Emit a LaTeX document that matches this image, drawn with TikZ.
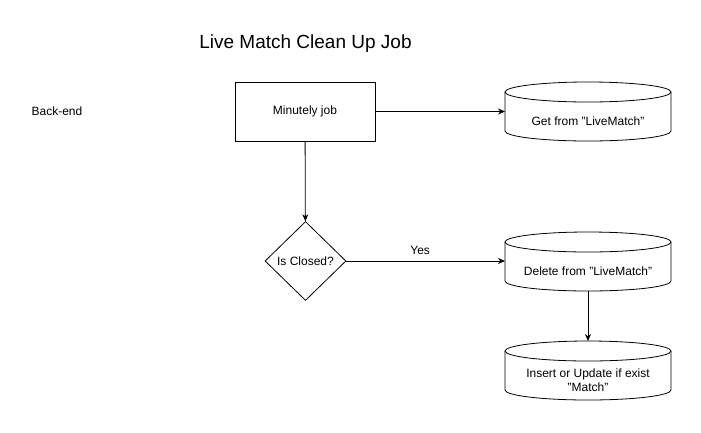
\documentclass[tikz,border=0pt]{standalone}
\usepackage{fontspec}
\setmainfont{Liberation Sans}
\usetikzlibrary{shapes.geometric, arrows.meta, calc}

% outline of a data store round a body node
\newcommand\drum[1]{%
  \draw ($(#1.north west)+(0,-10)$) -- ($(#1.south west)+(0,-10)$)
    arc[start angle=180, end angle=360, x radius=83pt, y radius=10pt]
    -- ($(#1.north east)+(0,-10)$);
  \draw ($(#1.north)+(0,-10)$) ellipse[x radius=83pt, y radius=10pt];
  \coordinate (#1 top) at ($(#1.north)+(0,-20)$);
}

\begin{document}
\begin{tikzpicture}[x=1pt, y=-1pt, line width=0.8pt, >={Stealth[length=7pt,width=6pt]},
  every node/.style={font=\fontsize{12}{14}\selectfont},
  jobbox/.style={draw, minimum width=140pt, minimum height=59pt},
  check/.style={draw, diamond, minimum width=81pt, minimum height=79pt, inner sep=0pt},
  store/.style={minimum width=166pt, minimum height=39pt, outer sep=0pt, align=center}]
  \useasboundingbox (0,0) rectangle (701,432);

  % Title and lane
  \node[font=\fontsize{19}{23}\selectfont] (title) at (305.5,44) {Live Match Clean Up Job};
  \node (lane) at (57,111) {Back-end};

  % Steps
  \node[jobbox] (job) at (305,111.5) {Minutely job};
  \node[store] (get) at (588,121.5) {Get from "LiveMatch"};
  \node[check] (closed) at (305.5,261) {Is Closed?};
  \node[store] (delete) at (588,271.5) {Delete from "LiveMatch"};
  \node[store] (upsert) at (588,380.5) {Insert or Update if exist\\"Match"};
  \drum{get}
  \drum{delete}
  \drum{upsert}

  % Connectors
  \draw[->] (job.east) -- (job.east -| get.west);
  \draw[->] (job) -- (closed);
  \draw[->] (closed.east) -- node[above=3pt, pos=0.465] {Yes} (closed.east -| delete.west);
  \draw[->] (delete.south) -- (upsert top);
\end{tikzpicture}
\end{document}
